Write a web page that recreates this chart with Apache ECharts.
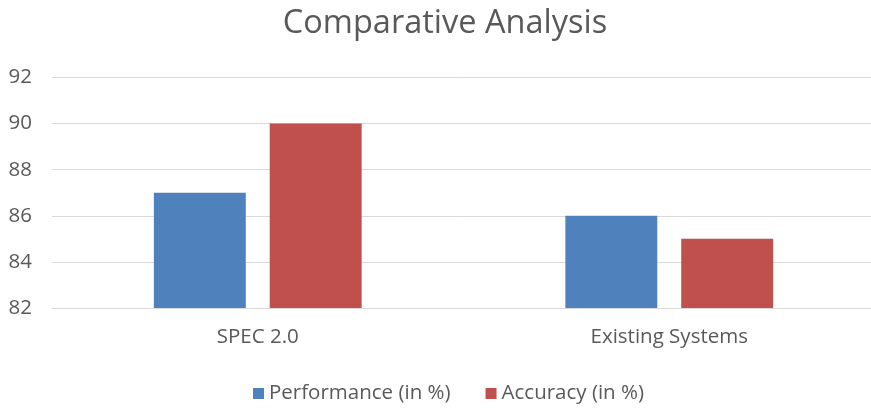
<!DOCTYPE html>
<html><head><meta charset="utf-8">
<script src="https://cdn.jsdelivr.net/npm/echarts@6/dist/echarts.min.js"></script>
<style>html,body{margin:0;padding:0;background:#fff;overflow:hidden;width:871px;height:408px}#c{width:890px;height:408px}</style>
</head><body><div id="c"></div>
<script>
const categories = ["SPEC 2.0", "Existing Systems"];
const performance = [87, 86];
const accuracy = [90, 85];
const seriesNames = ["Performance (in %)", "Accuracy (in %)"];
const yTicks = {min: 82, max: 92, interval: 2};

const font = "Open Sans";
const chart = echarts.init(document.getElementById('c'));
chart.setOption({
  animation: false,
  title: {text: "Comparative Analysis", left: "center", top: 2,
    textStyle: {fontFamily: font, fontSize: 32.5, fontWeight: "normal", color: "#595959"}},
  legend: {top: 378, left: 248, itemWidth: 11, itemHeight: 11, itemGap: 35, icon: "rect",
    textStyle: {fontFamily: font, fontSize: 20.5, color: "#595959"}, data: seriesNames},
  grid: {left: 52, right: 15, top: 77.5, height: 230.5, outerBoundsMode: "none", containLabel: false},
  xAxis: {type: "category", data: categories,
    axisLine: {lineStyle: {color: "#d9d9d9"}}, axisTick: {show: false},
    axisLabel: {fontFamily: font, fontSize: 20.5, color: "#595959", margin: 19}},
  yAxis: {type: "value", min: yTicks.min, max: yTicks.max, interval: yTicks.interval,
    axisLine: {show: false}, axisTick: {show: false},
    splitLine: {lineStyle: {color: "#d9d9d9"}},
    axisLabel: {fontFamily: font, fontSize: 20.5, color: "#595959", margin: 20}},
  series: [
    {name: seriesNames[0], type: "bar", data: performance, itemStyle: {color: "#4F81BD"},
      barGap: "26%", barCategoryGap: "49.5%"},
    {name: seriesNames[1], type: "bar", data: accuracy, itemStyle: {color: "#C0504D"}}
  ]
});
</script></body></html>
